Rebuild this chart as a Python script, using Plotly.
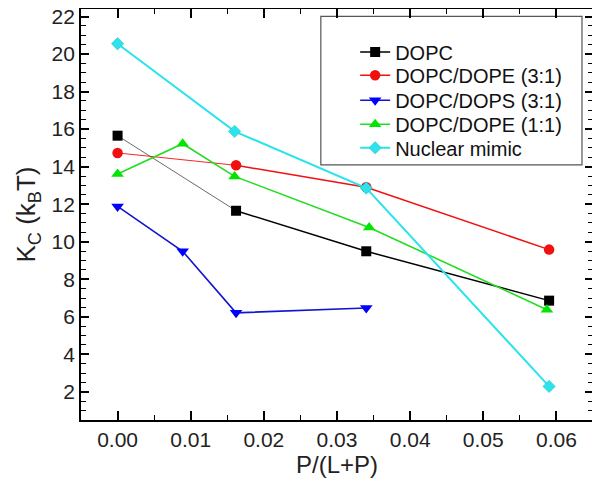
import plotly.graph_objects as go

# Data
dopc_x = [0.0, 0.0162, 0.034, 0.059]
dopc_y = [15.65, 11.65, 9.49, 6.86]

dope31_x = [0.0, 0.0162, 0.034, 0.059]
dope31_y = [14.73, 14.07, 12.9, 9.58]

dops31_x = [0.0, 0.0089, 0.0162, 0.034]
dops31_y = [11.88, 9.49, 6.21, 6.47]

dope11_x = [0.0, 0.0089, 0.016, 0.0344, 0.0587]
dope11_y = [13.61, 15.22, 13.48, 10.76, 6.38]

nuc_x = [0.0, 0.016, 0.034, 0.059]
nuc_y = [20.55, 15.88, 12.86, 2.29]

x_ticks = [0.00, 0.01, 0.02, 0.03, 0.04, 0.05, 0.06]
x_labels = ["0.00", "0.01", "0.02", "0.03", "0.04", "0.05", "0.06"]
y_ticks = [2, 4, 6, 8, 10, 12, 14, 16, 18, 20, 22]

names = ["DOPC", "DOPC/DOPE (3:1)", "DOPC/DOPS (3:1)", "DOPC/DOPE (1:1)", "Nuclear mimic"]

FONT = "Liberation Sans, Arial, sans-serif"
BLACK = "#000000"
RED = "#f01010"
BLUE = "#1414d2"
GREEN = "#22dd22"
CYAN = "#2ae3ec"

fig = go.Figure()

# DOPC: thin grey first segment, rest black
fig.add_trace(go.Scatter(x=dopc_x[:2], y=dopc_y[:2], mode="lines",
                         line=dict(color="#6a6a6a", width=1), showlegend=False, hoverinfo="skip"))
fig.add_trace(go.Scatter(x=dopc_x[1:], y=dopc_y[1:], mode="lines+markers", name=names[0],
                         line=dict(color=BLACK, width=1.5),
                         marker=dict(symbol="square", size=10, color=BLACK), legend="legend"))
fig.add_trace(go.Scatter(x=dopc_x[:1], y=dopc_y[:1], mode="markers", showlegend=False,
                         marker=dict(symbol="square", size=10, color=BLACK)))

# DOPC/DOPE (3:1): thin first segment
fig.add_trace(go.Scatter(x=dope31_x[:2], y=dope31_y[:2], mode="lines",
                         line=dict(color=RED, width=0.9), showlegend=False, hoverinfo="skip"))
fig.add_trace(go.Scatter(x=dope31_x[1:], y=dope31_y[1:], mode="lines+markers", name=names[1],
                         line=dict(color=RED, width=1.5),
                         marker=dict(symbol="circle", size=10.5, color=RED), legend="legend2"))
fig.add_trace(go.Scatter(x=dope31_x[:1], y=dope31_y[:1], mode="markers", showlegend=False,
                         marker=dict(symbol="circle", size=10.5, color=RED)))

# DOPC/DOPS (3:1)
fig.add_trace(go.Scatter(x=dops31_x, y=dops31_y, mode="lines+markers", name=names[2],
                         line=dict(color=BLUE, width=1.6),
                         marker=dict(symbol="triangle-down", size=11, color="#0000ff"), legend="legend3"))

# DOPC/DOPE (1:1)
fig.add_trace(go.Scatter(x=dope11_x, y=dope11_y, mode="lines+markers", name=names[3],
                         line=dict(color=GREEN, width=1.6),
                         marker=dict(symbol="triangle-up", size=11, color="#00e600"), legend="legend4"))

# Nuclear mimic
fig.add_trace(go.Scatter(x=nuc_x, y=nuc_y, mode="lines+markers", name=names[4],
                         line=dict(color=CYAN, width=2),
                         marker=dict(symbol="diamond", size=9.5, color=CYAN,
                                     line=dict(color="#20b8c0", width=0.5)), legend="legend5"))

# The page body has an 8px margin: convert screenshot pixels to figure pixels
OFF = 8
W, H = 592, 478
plot_left, plot_right, plot_top, plot_bottom = 81 - OFF, 592.7 - OFF, 9.3 - OFF, 420 - OFF
L, R, T, B = plot_left, W - plot_right, plot_top, H - plot_bottom
pw, ph = W - L - R, H - T - B

def px2paper_y(py):
    return (plot_bottom - (py - OFF)) / ph

def px2paper_x(px):
    return ((px - OFF) - plot_left) / pw

legend_rows = [52.3, 75.5, 100.5, 124.5, 148.0]
leg_common = dict(font=dict(family=FONT, size=20, color="#111111"), bgcolor="rgba(0,0,0,0)",
                  borderwidth=0, xanchor="left", yanchor="middle", itemwidth=30)
legends = {}
for i, row in enumerate(legend_rows):
    key = "legend" if i == 0 else f"legend{i+1}"
    legends[key] = dict(x=px2paper_x(355), y=px2paper_y(row), **leg_common)

fig.update_layout(
    width=W, height=H,
    margin=dict(l=L, r=R, t=T, b=B, pad=0, autoexpand=False),
    paper_bgcolor="white", plot_bgcolor="white",
    font=dict(family=FONT, color="#111111"),
    showlegend=True,
    **legends,
    shapes=[dict(type="rect", xref="paper", yref="paper",
                 x0=px2paper_x(320.7), x1=px2paper_x(581.7),
                 y0=px2paper_y(165), y1=px2paper_y(16.7),
                 line=dict(color="#555555", width=1.2), fillcolor="rgba(0,0,0,0)", layer="below")],
)

fig.update_xaxes(
    range=[-0.005, 0.065], tickmode="array", tickvals=x_ticks, ticktext=x_labels,
    ticks="inside", ticklen=9, tickwidth=1.5, tickcolor="black",
    minor=dict(ticks="inside", ticklen=5, tickwidth=1.2, dtick=0.005, tick0=0, tickcolor="black", showgrid=False),
    showline=True, linecolor="black", linewidth=1.8, mirror="ticks",
    showgrid=False, zeroline=False, automargin=False, ticklabeloverflow="allow",
    tickfont=dict(family=FONT, size=21, color="#222222"),
    title=dict(text="P/(L+P)", font=dict(family=FONT, size=24, color="#222222"), standoff=6),
)
fig.update_yaxes(
    range=[0.5, 22.4], tickmode="array", tickvals=y_ticks,
    ticks="inside", ticklen=8, tickwidth=1.5, tickcolor="black",
    minor=dict(ticks="inside", ticklen=5, tickwidth=1.2, dtick=0.5, tick0=0, tickcolor="black", showgrid=False),
    showline=True, linecolor="black", linewidth=1.8, mirror="ticks",
    showgrid=False, zeroline=False, automargin=False, ticklabeloverflow="allow",
    tickfont=dict(family=FONT, size=21, color="#222222"),
    title=dict(text="K<sub>C</sub> (k<sub>B</sub>T)", font=dict(family=FONT, size=26, color="#222222"), standoff=8),
)

fig.write_html("out.html")
